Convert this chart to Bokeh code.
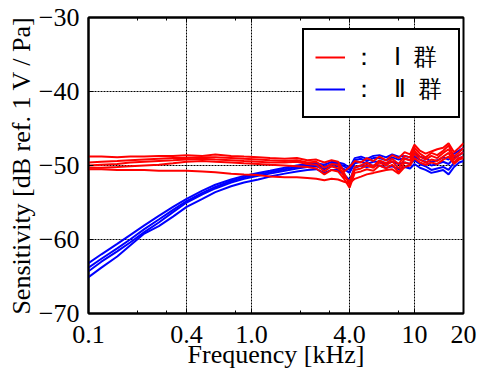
from bokeh.plotting import figure
from bokeh.models import (Range1d, FixedTicker, LogAxis, Legend, LegendItem,
                          CustomJSTickFormatter)
from bokeh.embed import file_html
from bokeh.resources import INLINE

# Frequency [kHz]
freq = [0.10, 0.12, 0.15, 0.18, 0.22, 0.27, 0.33, 0.40, 0.50, 0.60, 0.75, 0.90,
        1.1, 1.3, 1.6, 1.9, 2.2, 2.5, 2.8, 3.1, 3.4, 3.7, 4.0, 4.3, 4.7, 5.1,
        5.6, 6.1, 6.7, 7.3, 8.0, 8.7, 9.4, 10.0, 10.8, 11.7, 12.7, 13.8, 15.0,
        16.2, 17.5, 18.8, 20.0]

# Group I (red) sensitivity [dB]
r1 = [-48.8, -48.8, -48.9, -48.8, -48.8, -48.7, -48.7, -48.6, -48.7, -48.5, -48.7, -48.8,
      -48.9, -49.0, -49.1, -49.0, -49.3, -49.2, -49.6, -49.3, -49.5, -50.8, -50.2, -49.4,
      -49.6, -49.0, -49.4, -48.8, -49.3, -48.6, -49.0, -48.2, -48.5, -47.2, -48.0, -48.4,
      -48.1, -47.8, -47.6, -47.0, -48.2, -47.6, -47.0]
r2 = [-49.6, -49.5, -49.4, -49.3, -49.2, -49.1, -49.0, -49.0, -48.9, -48.9, -49.0, -49.1,
      -49.2, -49.3, -49.4, -49.3, -49.6, -49.5, -50.3, -49.8, -49.9, -51.5, -52.2, -50.2,
      -50.0, -49.6, -50.1, -49.3, -49.7, -49.1, -49.8, -48.7, -48.9, -47.6, -48.4, -48.9,
      -48.3, -48.6, -48.0, -47.3, -48.8, -48.2, -47.6]
r3 = [-50.0, -49.9, -49.8, -49.6, -49.5, -49.4, -49.3, -49.2, -49.1, -49.2, -49.3, -49.4,
      -49.5, -49.6, -49.6, -49.5, -49.8, -49.9, -50.8, -50.1, -50.4, -51.0, -52.6, -50.6,
      -50.4, -50.0, -50.3, -49.6, -50.0, -49.4, -50.4, -49.1, -49.3, -48.0, -48.8, -49.2,
      -48.7, -49.0, -48.3, -47.8, -49.2, -48.6, -48.2]
r4 = [-50.3, -50.3, -50.2, -50.1, -50.0, -49.9, -49.7, -49.5, -49.4, -49.5, -49.6, -49.7,
      -49.8, -49.9, -50.0, -50.1, -50.2, -50.4, -51.2, -50.6, -50.8, -51.8, -53.0, -51.0,
      -50.8, -50.5, -50.7, -50.0, -50.4, -49.9, -50.9, -49.6, -49.8, -48.4, -49.2, -49.6,
      -49.2, -49.4, -48.8, -48.3, -49.6, -49.0, -48.8]
r5 = [-50.5, -50.5, -50.6, -50.6, -50.6, -50.7, -50.7, -50.7, -50.8, -50.9, -51.1, -51.2,
      -51.3, -51.5, -51.6, -51.6, -51.7, -51.8, -52.0, -51.8, -51.9, -52.2, -52.4, -51.8,
      -51.5, -51.2, -51.0, -50.8, -50.6, -50.5, -51.1, -50.2, -50.0, -49.0, -49.6, -49.9,
      -49.6, -49.8, -49.2, -48.8, -49.8, -49.2, -49.0]

# Group II (blue) sensitivity [dB]
b1 = [-63.2, -62.0, -60.6, -59.4, -58.1, -56.8, -55.6, -54.5, -53.4, -52.6, -51.9, -51.4,
      -51.0, -50.7, -50.3, -50.0, -49.8, -49.7, -49.9, -49.5, -49.6, -49.8, -50.3, -49.0,
      -48.8, -49.1, -48.7, -48.6, -48.9, -48.5, -48.8, -48.7, -48.9, -48.4, -48.8, -49.0,
      -49.5, -49.3, -48.9, -49.2, -48.4, -48.0, -47.6]
b2 = [-63.8, -62.6, -61.2, -60.0, -58.6, -57.3, -56.0, -54.8, -53.7, -52.9, -52.1, -51.6,
      -51.2, -50.9, -50.5, -50.2, -50.0, -49.9, -50.2, -49.8, -49.8, -50.1, -50.6, -49.3,
      -49.1, -49.4, -49.0, -49.0, -49.3, -48.9, -49.2, -49.0, -49.3, -48.8, -49.2, -49.5,
      -50.0, -49.8, -49.5, -49.8, -49.0, -48.6, -48.2]
b3 = [-64.3, -63.0, -61.6, -60.4, -59.0, -57.7, -56.3, -55.0, -53.9, -53.1, -52.3, -51.8,
      -51.4, -51.1, -50.7, -50.4, -50.2, -50.1, -50.5, -50.1, -50.1, -50.5, -51.0, -49.7,
      -49.5, -49.8, -49.5, -49.5, -49.8, -49.5, -49.8, -49.6, -49.8, -49.3, -49.8, -50.1,
      -50.6, -50.4, -50.2, -50.6, -49.6, -49.0, -48.8]
b4 = [-65.1, -63.8, -62.3, -60.8, -59.2, -58.2, -56.9, -55.6, -54.5, -53.6, -52.8, -52.3,
      -51.9, -51.5, -51.1, -50.8, -50.6, -50.5, -51.0, -50.6, -50.6, -51.2, -52.0, -50.3,
      -50.0, -50.2, -50.0, -50.0, -50.3, -50.1, -50.5, -50.2, -50.4, -49.8, -50.3, -50.6,
      -51.0, -50.8, -50.6, -51.2, -50.2, -49.6, -49.4]

group1 = [r1, r2, r3, r4, r5]
group2 = [b1, b2, b3, b4]

x_major = [0.1, 0.4, 1.0, 4.0, 10.0, 20.0]
x_minor = [0.2, 0.3, 0.8, 2.0, 3.0, 8.0]
x_grid = [0.4, 1.0, 4.0, 10.0]
y_major = [-70, -60, -50, -40, -30]
y_grid = [-60, -50, -40]

label_1 = "：   Ⅰ  群"
label_2 = "：   Ⅱ  群"

SERIF = "Liberation Serif"

p = figure(width=479, height=373, x_axis_type="log",
           x_range=Range1d(0.1, 20), y_range=Range1d(-70, -30),
           output_backend="svg", toolbar_location=None,
           min_border_left=88, min_border_top=17, min_border_right=16,
           min_border_bottom=60)

p.outline_line_color = "black"
p.outline_line_width = 2
p.outline_line_alpha = 1

blue_renderers = [p.line(freq, ys, line_color="#0000ff", line_width=2) for ys in group2]
red_renderers = [p.line(freq, ys, line_color="#ff0000", line_width=2) for ys in group1]

# axes
xa = p.xaxis[0]
xa.ticker = FixedTicker(ticks=x_major, minor_ticks=x_minor)
xa.formatter = CustomJSTickFormatter(code="return tick < 10 ? tick.toFixed(1) : tick.toFixed(0);")
ya = p.yaxis[0]
ya.ticker = FixedTicker(ticks=y_major)

for ax in (xa, ya):
    ax.axis_line_color = "black"
    ax.axis_line_width = 2
    ax.major_tick_out = 0
    ax.major_tick_in = 5
    ax.minor_tick_out = 0
    ax.minor_tick_in = 3
    ax.major_tick_line_color = "black"
    ax.minor_tick_line_color = "black"
    ax.major_label_text_font = SERIF
    ax.major_label_text_font_size = "26px"
    ax.major_label_text_color = "black"
    ax.axis_label_text_font = SERIF
    ax.axis_label_text_font_size = "26px"
    ax.axis_label_text_font_style = "normal"
    ax.axis_label_text_color = "black"

xa.axis_label = "Frequency [kHz]"
xa.major_label_standoff = 12
xa.axis_label_standoff = -6
ya.axis_label = "Sensitivity [dB ref. 1 V / Pa]"
ya.major_label_standoff = 9
ya.axis_label_standoff = 0

top = LogAxis(ticker=FixedTicker(ticks=x_major, minor_ticks=x_minor),
              major_label_text_font_size="0px", major_label_standoff=0,
              major_tick_out=0, major_tick_in=5, minor_tick_out=0, minor_tick_in=3,
              axis_line_color="black", axis_line_width=2)
p.add_layout(top, "above")

p.xgrid.ticker = FixedTicker(ticks=x_grid)
p.ygrid.ticker = FixedTicker(ticks=y_grid)
for g in (p.xgrid, p.ygrid):
    g.grid_line_color = "black"
    g.grid_line_dash = "2 1"
    g.grid_line_width = 1
    g.grid_line_alpha = 1

legend = Legend(items=[LegendItem(label=label_1, renderers=[red_renderers[0]]),
                       LegendItem(label=label_2, renderers=[blue_renderers[0]])],
                location=(214, 195))
legend.padding = 11
legend.spacing = 0
legend.margin = 0
legend.label_height = 30
legend.glyph_width = 30
legend.glyph_height = 30
legend.label_standoff = 7
legend.label_width = 95
legend.border_line_color = "black"
legend.border_line_width = 2
legend.border_line_alpha = 1
legend.background_fill_color = "white"
legend.background_fill_alpha = 1
legend.label_text_font = SERIF
legend.label_text_font_size = "24px"
legend.label_text_color = "black"
p.add_layout(legend)

open("out.html", "w").write(file_html(p, INLINE))
